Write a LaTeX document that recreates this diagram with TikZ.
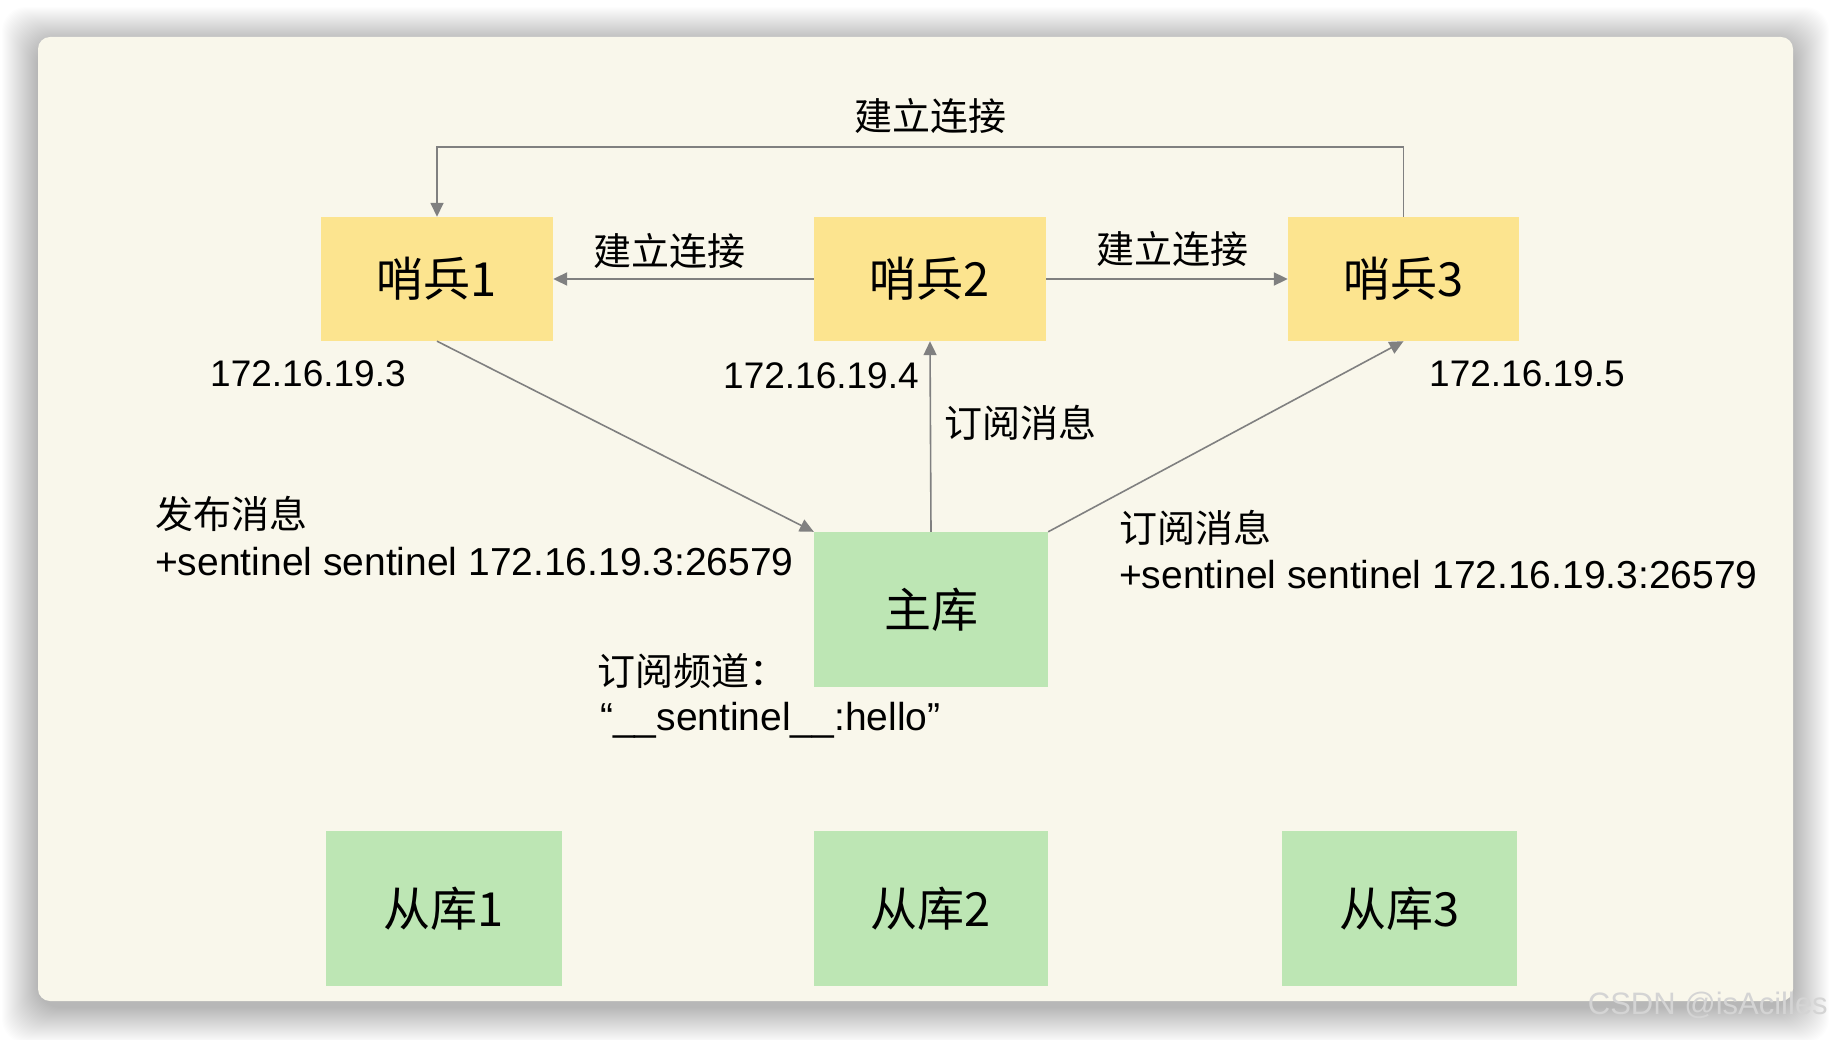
\documentclass[tikz,border=0pt]{standalone}
\usepackage{fontspec}
\setmainfont{Liberation Sans}
\newfontfamily\cjk{Noto Sans CJK SC}
\usetikzlibrary{arrows.meta,calc}
\definecolor{panelbg}{HTML}{F9F7EB}
\definecolor{sentfill}{HTML}{FCE48F}
\definecolor{dbfill}{HTML}{BDE6B4}
\definecolor{arrowgray}{HTML}{808080}
\definecolor{wmgray}{HTML}{D4D4D4}
\tikzset{
  sentbox/.style={fill=sentfill, draw=none, minimum width=232pt, minimum height=124pt, inner sep=0pt,
    font=\cjk\fontsize{47}{50}\selectfont},
  dbbox/.style={fill=dbfill, draw=none, minimum width=234pt, minimum height=155pt, inner sep=0pt,
    font=\cjk\fontsize{47}{50}\selectfont},
  cjklabel/.style={inner sep=0pt, font=\cjk\fontsize{38}{42}\selectfont},
  latlabel/.style={inner sep=0pt, font=\fontsize{39}{44}\selectfont},
  iplabel/.style={inner sep=0pt, font=\fontsize{37}{42}\selectfont},
  conn/.style={draw=arrowgray, line width=2pt, -{Triangle[length=14pt,width=13pt]}},
  thinconn/.style={draw=arrowgray, line width=1.6pt, -{Triangle[length=14pt,width=13pt]}}
}
\begin{document}
\begin{tikzpicture}[x=1pt,y=-1pt]
\useasboundingbox (0,0) rectangle (1832,1040);
\fill[white] (0,0) rectangle (1832,1040);
% soft shadow around the panel
\foreach \i in {1,...,36}{
  \fill[black,opacity=0.0065,rounded corners=24pt] ({38-\i},{37-\i+6}) rectangle ({1793+\i},{1001+\i+6});
}
\fill[panelbg,rounded corners=12pt] (38,37) rectangle (1793,1001);

% sentinels
\node[sentbox] (s1) at (437,279) {哨兵1};
\node[sentbox] (s2) at (930,279) {哨兵2};
\node[sentbox, minimum width=231pt] (s3) at (1403.5,279) {哨兵3};
% master and replicas
\node[dbbox] (m) at (931,609.5) {主库};
\node[dbbox, minimum width=236pt] (r1) at (444,908.5) {从库1};
\node[dbbox] (r2) at (931,908.5) {从库2};
\node[dbbox, minimum width=235pt] (r3) at (1399.5,908.5) {从库3};

% connections
\coordinate (loop) at (930,147);
\draw[thinconn] (s3.north) |- (loop) -| (s1.north);
\draw[conn] (s2.west) -- (s1.east);
\draw[conn] (s2.east) -- (s3.west);
\draw[thinconn] (s1.south) -- (m.north west);
\draw[thinconn] (m.north) -- (s2.south);
\draw[thinconn] (m.north east) -- (s3.south);

% labels
\node[cjklabel] (lt) at (930,116) {建立连接};
\node[cjklabel] (l12) at (669,251) {建立连接};
\node[cjklabel] (l23) at (1172,249) {建立连接};
\node[iplabel, anchor=west] (ip1) at (210,374) {172.16.19.3};
\node[iplabel, anchor=west] (ip2) at (723,376) {172.16.19.4};
\node[iplabel, anchor=west] (ip3) at (1429,374) {172.16.19.5};
\node[cjklabel, anchor=west] (sub2) at (944,423) {订阅消息};
\node[cjklabel, anchor=west] (pub) at (155,514) {发布消息};
\node[latlabel, anchor=west] (pubtxt) at (155,562) {+sentinel sentinel 172.16.19.3:26579};
\node[cjklabel, anchor=west] (sub3) at (1119,528) {订阅消息};
\node[latlabel, anchor=west] (sub3txt) at (1119,575) {+sentinel sentinel 172.16.19.3:26579};
\node[cjklabel, anchor=west] (chan) at (597,671) {订阅频道：};
\node[latlabel, anchor=base west] (chantxt) at (600,730) {“\_\_sentinel\_\_:hello”};

% watermark
\node[inner sep=0pt, anchor=base east, text=wmgray, font=\fontsize{31}{34}\selectfont] (wm) at (1828,1014) {CSDN @isAcilles};
\end{tikzpicture}
\end{document}
